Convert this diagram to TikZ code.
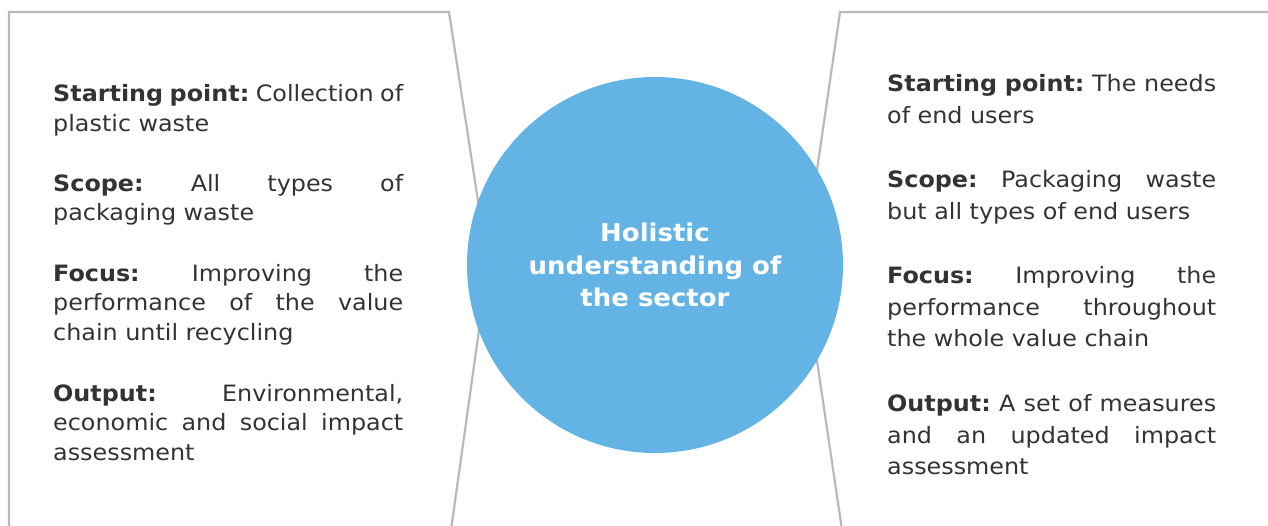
\documentclass[tikz,border=0pt]{standalone}
\usepackage{fontspec}
\setmainfont{DejaVu Sans}[FakeStretch=1.06]
\frenchspacing
\definecolor{txt}{HTML}{333333}
\definecolor{edge}{HTML}{BABABA}
\definecolor{disc}{HTML}{63B4E4}
\newcommand{\jline}[2]{\leavevmode\hbox to #1{\spaceskip=0.32em plus 1fil minus 0.1em\relax #2}}
\newcommand{\jl}[1]{\jline{350pt}{#1}}
\newcommand{\jr}[1]{\jline{329pt}{#1}}
\begin{document}
\begin{tikzpicture}[x=1pt,y=-1pt,
  frame/.style={draw=edge,line width=2.2pt,line join=miter},
  lpara/.style={anchor=base west,inner sep=0pt,text width=350pt,align=left,text=txt,font=\fontsize{22.5}{29.5}\selectfont},
  rpara/.style={anchor=base west,inner sep=0pt,text width=329pt,align=left,text=txt,font=\fontsize{22.5}{31.7}\selectfont},
  hub/.style={circle,fill=disc,minimum size=376pt,inner sep=0pt,text=white,align=center,font=\bfseries\fontsize{24.5}{32.5}\selectfont}]
\useasboundingbox (0,0) rectangle (1268,525);
\coordinate (l1) at (9,530);
\coordinate (l2) at (9,12);
\coordinate (l3) at (449,12);
\coordinate (l4) at (488,266);
\coordinate (l5) at (451,530);
\coordinate (r1) at (1275,12);
\coordinate (r2) at (840,12);
\coordinate (r3) at (803,266);
\coordinate (r4) at (842,530);
\draw[frame] (l1) -- (l2) -- (l3) -- (l4) -- (l5);
\draw[frame] (r1) -- (r2) -- (r3) -- (r4);
\node[hub] (c) at (655,265) {Holistic\\understanding of\\the sector};
\node[lpara] (a1) at (53,101.5) {\jl{\textbf{Starting point:} Collection of}\\plastic waste};
\node[lpara] (a2) at (53,191) {\jl{\textbf{Scope:} All types of}\\packaging waste};
\node[lpara] (a3) at (53,281) {\jl{\textbf{Focus:} Improving the}\\\jl{performance of the value}\\chain until recycling};
\node[lpara] (a4) at (53,401) {\jl{\textbf{Output:} Environmental,}\\\jl{economic and social impact}\\assessment};
\node[rpara] (b1) at (887,91.5) {\jr{\textbf{Starting point:} The needs}\\of end users};
\node[rpara] (b2) at (887,187.5) {\jr{\textbf{Scope:} Packaging waste}\\but all types of end users};
\node[rpara] (b3) at (887,283.5) {\jr{\textbf{Focus:} Improving the}\\\jr{performance throughout}\\the whole value chain};
\node[rpara] (b4) at (887,411.5) {\jr{\textbf{Output:} A set of measures}\\\jr{and an updated impact}\\assessment};
\end{tikzpicture}
\end{document}
